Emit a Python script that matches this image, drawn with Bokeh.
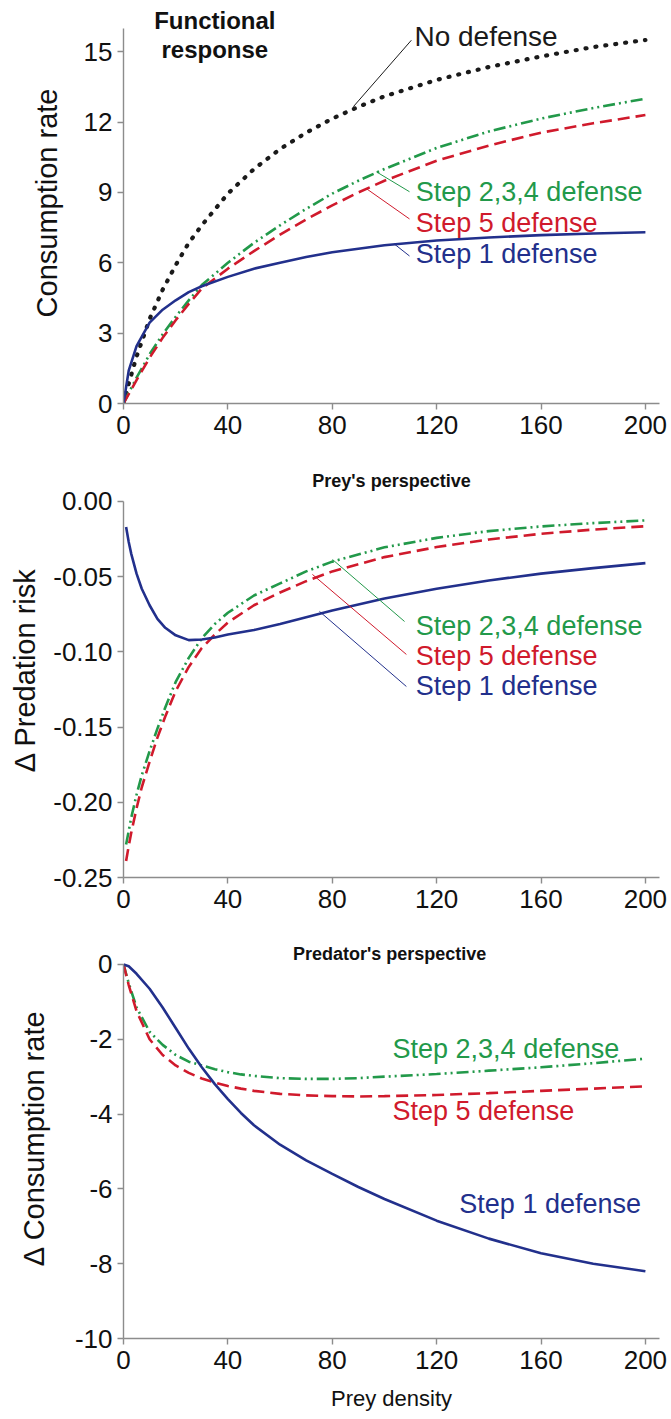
from bokeh.plotting import figure
from bokeh.layouts import column
from bokeh.models import Range1d, FixedTicker, Label, NumeralTickFormatter
from bokeh.embed import file_html
from bokeh.resources import INLINE

FONT = "Liberation Sans"
BLACK = "#1a1a1a"
GREEN = "#22994a"
RED = "#d01a2c"
BLUE = "#22308c"
AXIS = "#8c8c8c"

# ---------------- data ----------------
x_ticks = [0, 40, 80, 120, 160, 200]

# Panel A: functional response
xa = [0, 2, 5, 10, 15, 20, 25, 30, 40, 50, 60, 70, 80, 90, 100, 120, 140, 160, 180, 200]
a_none = [0, 0.85, 2.0, 3.6, 4.85, 5.9, 6.85, 7.6, 8.95, 10.0, 10.85, 11.55, 12.15, 12.65, 13.1, 13.8, 14.35, 14.8, 15.2, 15.5]
a_step1 = [0, 1.4, 2.45, 3.45, 4.0, 4.4, 4.75, 5.0, 5.4, 5.75, 6.0, 6.25, 6.45, 6.6, 6.75, 6.95, 7.08, 7.18, 7.25, 7.3]
a_step234 = [0, 0.45, 1.1, 2.1, 2.95, 3.7, 4.4, 5.05, 6.0, 6.85, 7.6, 8.3, 8.95, 9.5, 10.0, 10.9, 11.6, 12.15, 12.6, 13.0]
a_step5 = [0, 0.4, 1.0, 1.95, 2.8, 3.55, 4.25, 4.9, 5.75, 6.5, 7.2, 7.85, 8.45, 9.0, 9.5, 10.35, 11.0, 11.55, 11.95, 12.3]
a_yticks = [0, 3, 6, 9, 12, 15]

# Panel B: prey's perspective
xb = [1, 2, 3, 5, 7, 10, 13, 16, 20, 25, 30, 35, 40, 50, 60, 70, 80, 100, 120, 140, 160, 180, 200]
b_step1 = [-0.017, -0.027, -0.035, -0.048, -0.058, -0.069, -0.078, -0.084, -0.089, -0.0922, -0.0918, -0.0905,
           -0.0885, -0.0855, -0.0815, -0.077, -0.0725, -0.0645, -0.058, -0.0525, -0.048, -0.0443, -0.041]
b_step234 = [-0.228, -0.219, -0.21, -0.195, -0.182, -0.166, -0.151, -0.137, -0.12, -0.104, -0.091, -0.0815,
             -0.074, -0.0625, -0.0545, -0.0465, -0.04, -0.0305, -0.0242, -0.0197, -0.0166, -0.0144, -0.0126]
b_step5 = [-0.239, -0.229, -0.22, -0.204, -0.19, -0.173, -0.157, -0.143, -0.126, -0.11, -0.0975, -0.0885,
           -0.0805, -0.069, -0.0605, -0.053, -0.0465, -0.037, -0.0303, -0.0253, -0.0215, -0.0187, -0.0165]
b_yticks = [-0.25, -0.2, -0.15, -0.1, -0.05, 0.0]

# Panel C: predator's perspective
xc = [0, 2, 5, 10, 15, 20, 25, 30, 35, 40, 45, 50, 60, 70, 80, 90, 100, 120, 140, 160, 180, 200]
c_step1 = [0, -0.05, -0.25, -0.65, -1.15, -1.7, -2.25, -2.75, -3.2, -3.6, -3.97, -4.3, -4.82, -5.24, -5.6, -5.95, -6.27,
           -6.85, -7.33, -7.72, -8.0, -8.2]
c_step234 = [0, -0.5, -1.15, -1.8, -2.15, -2.42, -2.6, -2.7, -2.8, -2.88, -2.94, -2.98, -3.04, -3.06, -3.06, -3.04, -3.0,
             -2.93, -2.84, -2.75, -2.64, -2.52]
c_step5 = [0, -0.55, -1.25, -2.0, -2.42, -2.7, -2.9, -3.05, -3.16, -3.25, -3.32, -3.38, -3.46, -3.5, -3.52, -3.53, -3.52,
           -3.49, -3.44, -3.38, -3.32, -3.26]
c_yticks = [-10, -8, -6, -4, -2, 0]

X_END = 205.4


def make_fig(height, y0, y1, ybounds, yticks, ylabel, bottom, label_standoff, xlabel=None, fmt=None):
    p = figure(width=667, height=height, x_range=Range1d(0, X_END), y_range=Range1d(y0, y1),
               output_backend="svg", toolbar_location=None,
               min_border_left=123, min_border_right=8,
               min_border_top=2, min_border_bottom=bottom)
    p.outline_line_color = None
    p.grid.visible = False
    p.background_fill_color = "white"
    p.border_fill_color = "white"
    for ax in (p.xaxis[0], p.yaxis[0]):
        ax.axis_line_color = AXIS
        ax.axis_line_width = 1.4
        ax.major_tick_line_color = AXIS
        ax.major_tick_line_width = 1.4
        ax.major_tick_out = 6
        ax.major_tick_in = 0
        ax.minor_tick_line_color = None
        ax.major_label_text_font = FONT
        ax.major_label_text_font_size = "26px"
        ax.major_label_text_color = "#111111"
        ax.axis_label_text_font = FONT
        ax.axis_label_text_font_style = "normal"
        ax.axis_label_text_color = "#111111"
    p.xaxis.ticker = FixedTicker(ticks=x_ticks)
    p.xaxis.major_label_standoff = 6
    p.xaxis.bounds = (0, X_END)
    p.yaxis.ticker = FixedTicker(ticks=yticks)
    p.yaxis.major_label_standoff = 5
    p.yaxis.bounds = ybounds
    p.yaxis.axis_label = ylabel
    p.yaxis.axis_label_text_font_size = "29px"
    p.yaxis.axis_label_standoff = label_standoff
    if fmt is not None:
        p.yaxis.formatter = NumeralTickFormatter(format=fmt)
    if xlabel:
        p.xaxis.axis_label = xlabel
        p.xaxis.axis_label_text_font_size = "22px"
        p.xaxis.axis_label_standoff = 14
    return p


def label(p, x, y, text, color, size="27px", align="left", bold=False):
    p.add_layout(Label(x=x, y=y, text=text, text_color=color, text_font=FONT,
                       text_font_size=size, text_align=align, text_baseline="middle",
                       text_font_style="bold" if bold else "normal"))


DOT = dict(line_dash="1 9", line_width=4.2, line_cap="round")
DASHDOT = dict(line_dash="12 4 2 4 2 4", line_width=2.6)
DASH = dict(line_dash="12 6", line_width=2.6)
SOLID = dict(line_width=2.6)

# ---------- Panel A ----------
pa = make_fig(460, 0, 17.1, (0, 16), a_yticks, "Consumption rate", 57, 18)
pa.line(xa, a_none, line_color=BLACK, **DOT)
pa.line(xa, a_step234, line_color=GREEN, **DASHDOT)
pa.line(xa, a_step5, line_color=RED, **DASH)
pa.line(xa, a_step1, line_color=BLUE, **SOLID)
pa.segment(x0=[88.1, 96.9, 93.1, 103.8], y0=[12.66, 9.88, 9.16, 6.8],
           x1=[110.3, 109.6, 109.6, 109.6], y1=[15.49, 9.03, 7.87, 6.29],
           line_color=[BLACK, GREEN, RED, BLUE], line_width=1)
label(pa, 111.5, 15.66, "No defense", BLACK, size="28px")
label(pa, 112.0, 9.03, "Step 2,3,4 defense", GREEN)
label(pa, 112.0, 7.7, "Step 5 defense", RED)
label(pa, 112.0, 6.37, "Step 1 defense", BLUE)
label(pa, 35, 16.33, "Functional", "#111111", size="24px", align="center", bold=True)
label(pa, 35, 15.1, "response", "#111111", size="24px", align="center", bold=True)

# ---------- Panel B ----------
pb = make_fig(475, -0.25, 0.0259, (-0.25, 0.0), b_yticks, "\u0394 Predation risk", 58, 9, fmt="0.00")
pb.line(xb, b_step234, line_color=GREEN, **DASHDOT)
pb.line(xb, b_step5, line_color=RED, **DASH)
pb.line(xb, b_step1, line_color=BLUE, **SOLID)
pb.segment(x0=[80.1, 72.4, 75.1], y0=[-0.0386, -0.0485, -0.0731],
           x1=[107.7, 108.4, 108.4], y1=[-0.0798, -0.1017, -0.123],
           line_color=[GREEN, RED, BLUE], line_width=1)
label(pb, 112.0, -0.0831, "Step 2,3,4 defense", GREEN)
label(pb, 112.0, -0.103, "Step 5 defense", RED)
label(pb, 112.0, -0.123, "Step 1 defense", BLUE)
label(pb, 102.7, 0.0133, "Prey's perspective", "#111111", size="18px", align="center", bold=True)

# ---------- Panel C ----------
pc = make_fig(478, -10, 0.72, (-10, 0), c_yticks, "\u0394 Consumption rate", 74, 22, xlabel="Prey density", fmt="0")
pc.line(xc, c_step234, line_color=GREEN, **DASHDOT)
pc.line(xc, c_step5, line_color=RED, **DASH)
pc.line(xc, c_step1, line_color=BLUE, **SOLID)
label(pc, 103.1, -2.27, "Step 2,3,4 defense", GREEN)
label(pc, 103.1, -3.92, "Step 5 defense", RED)
label(pc, 128.7, -6.4, "Step 1 defense", BLUE)
label(pc, 102.0, 0.27, "Predator's perspective", "#111111", size="18px", align="center", bold=True)

layout = column(pa, pb, pc, spacing=0)
open("out.html", "w").write(file_html(layout, INLINE))
